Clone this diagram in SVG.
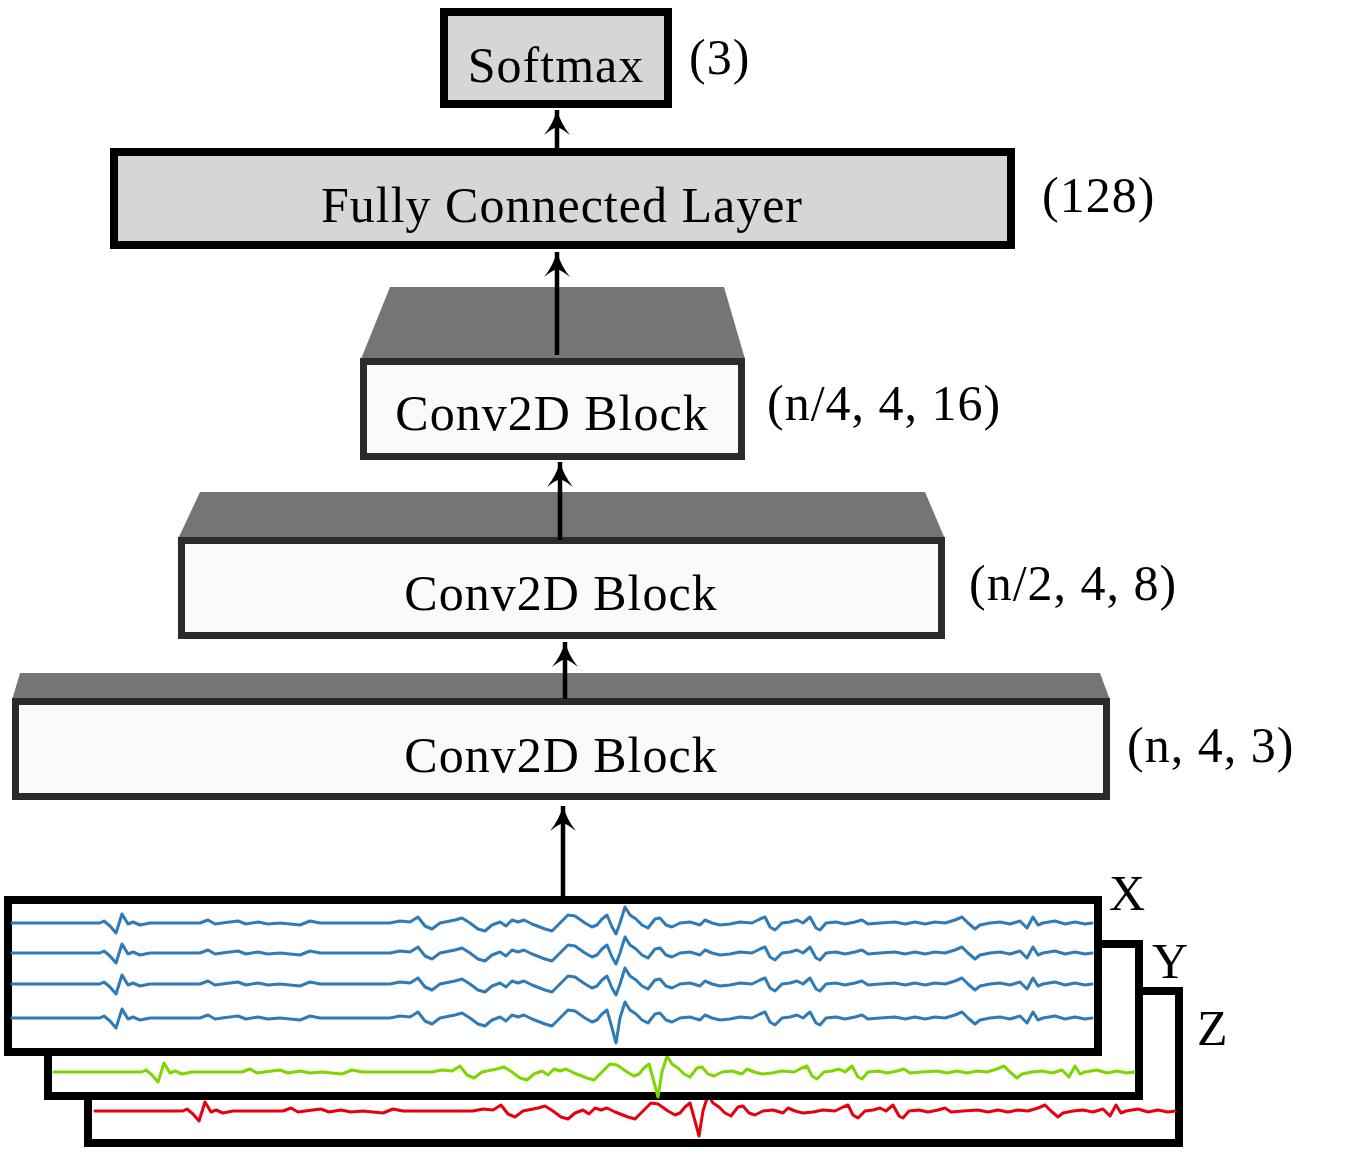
<svg xmlns="http://www.w3.org/2000/svg" xmlns:xlink="http://www.w3.org/1999/xlink" width="1348" height="1156" viewBox="0 0 1348 1156">
<style>
  text { font-family: "Liberation Serif", "Times New Roman", serif; font-size: 50px; fill: #000; letter-spacing: 1px; }
  .mid { text-anchor: middle; }
  .gbox { fill: #d6d6d6; stroke: #000; stroke-width: 8; }
  .cbox { fill: #fafafa; stroke: #2b2b2b; stroke-width: 7; }
  .trap { fill: #757575; }
  .frame { fill: #fff; stroke: #000; stroke-width: 8; }
  .conn { stroke: #000; stroke-width: 4.5; fill: none; }
  .wave { fill: none; stroke-width: 3; stroke-linejoin: round; stroke-linecap: round; }
  .blue { stroke: #2f7bb8; }
  .green { stroke: #7ed600; }
  .red { stroke: #e60010; }
</style>
<defs>
  <marker id="ah" markerUnits="userSpaceOnUse" markerWidth="32" markerHeight="32" viewBox="-16 -2 32 32" refX="0" refY="0" orient="auto-start-reverse" overflow="visible">
    <path d="M0,0 Q4,14 13,25 Q4,18 0,17 Q-4,18 -13,25 Q-4,14 0,0 Z" fill="#000" transform="rotate(90)"/>
  </marker>
  <polyline id="wa" class="wave" points="12,0 100,0 104,-2 110,3 116,10 122,-9 128,1 133,-1 140,2 150,0 200,0 208,-3 215,1 222,0 238,-2 246,1 258,-1 268,1 280,0 300,2 310,-2 320,0 390,0 400,-2 410,-1 418,-6 425,3 432,6 440,0 455,-3 462,-5 470,0 478,6 485,8 492,2 500,-1 506,3 512,-3 518,-1 524,-3 532,1 545,6 552,8 560,0 568,-8 575,-7 585,0 592,4 597,2 602,-4 607,-8 612,4 616,11 620,0 625,-16 630,-8 636,-4 642,2 648,5 655,-4 660,-5 666,2 672,4 680,0 690,-1 700,2 705,-3 712,0 720,2 730,1 740,-1 752,0 760,-4 765,-6 770,4 775,7 782,0 790,-1 797,-3 803,0 810,-6 816,5 820,7 826,0 836,-1 845,1 855,-1 862,-3 868,1 880,0 895,-1 905,1 915,-1 925,1 935,-1 945,0 955,-3 962,-6 968,0 975,6 980,2 990,0 1000,-1 1010,1 1020,-2 1027,5 1033,-6 1038,2 1043,0 1055,-2 1065,1 1075,-1 1085,1 1092,0"/>
  <polyline id="wb" class="wave" points="12,0 100,0 104,-2 110,3 116,10 122,-9 128,1 133,-1 140,2 150,0 200,0 208,-3 215,1 222,0 238,-2 246,1 258,-1 268,1 280,0 300,2 310,-2 320,0 390,0 400,-2 410,-1 418,-6 425,3 432,6 440,0 455,-3 462,-5 470,0 478,6 485,8 492,2 500,-1 506,3 512,-3 518,-1 524,-3 532,1 545,6 552,8 560,0 568,-8 575,-7 585,0 592,4 597,2 602,-4 607,-8 612,10 616,25 620,0 625,-16 630,-8 636,-4 642,2 648,5 655,-4 660,-5 666,2 672,4 680,0 690,-1 700,2 705,-3 712,0 720,2 730,1 740,-1 752,0 760,-4 765,-6 770,4 775,7 782,0 790,-1 797,-3 803,0 810,-6 816,5 820,7 826,0 836,-1 845,1 855,-1 862,-3 868,1 880,0 895,-1 905,1 915,-1 925,1 935,-1 945,0 955,-3 962,-6 968,0 975,6 980,2 990,0 1000,-1 1010,1 1020,-2 1027,5 1033,-6 1038,2 1043,0 1055,-2 1065,1 1075,-1 1085,1 1092,0"/>
</defs>
<rect width="1348" height="1156" fill="#fff"/>

<g id="input">
  <g id="input-z">
    <rect class="frame" x="88" y="991" width="1091" height="152"/>
    <use xlink:href="#wb" href="#wb" class="red" transform="translate(83,1111)"/>
    <text x="1197" y="1045">Z</text>
  </g>
  <g id="input-y">
    <rect class="frame" x="48" y="944" width="1091" height="152"/>
    <use xlink:href="#wb" href="#wb" class="green" transform="translate(42,1072)"/>
    <text x="1152" y="978">Y</text>
  </g>
  <g id="input-x">
    <rect class="frame" x="8" y="900" width="1090" height="152"/>
    <use xlink:href="#wa" href="#wa" class="blue" transform="translate(0,923)"/>
    <use xlink:href="#wa" href="#wa" class="blue" transform="translate(0,953)"/>
    <use xlink:href="#wa" href="#wa" class="blue" transform="translate(0,984)"/>
    <use xlink:href="#wb" href="#wb" class="blue" transform="translate(0,1018)"/>
    <text x="1109" y="910">X</text>
  </g>
</g>

<g id="conv1">
  <polygon class="trap" points="20,673 1100,673 1110,700 12,700"/>
  <rect class="cbox" x="15.5" y="701.5" width="1091" height="95"/>
  <text class="mid" x="561" y="772">Conv2D Block</text>
  <text x="1127" y="762">(n, 4, 3)</text>
</g>

<g id="conv2">
  <polygon class="trap" points="200,492 925,492 945,539 178,539"/>
  <rect class="cbox" x="181.5" y="540.5" width="760" height="95"/>
  <text class="mid" x="561" y="610">Conv2D Block</text>
  <text x="969" y="600">(n/2, 4, 8)</text>
</g>

<g id="conv3">
  <polygon class="trap" points="390,287 724,287 745,359 361,359"/>
  <rect class="cbox" x="363.5" y="361.5" width="378" height="95"/>
  <text class="mid" x="552" y="430">Conv2D Block</text>
  <text x="767" y="420">(n/4, 4, 16)</text>
</g>

<g id="fc">
  <rect class="gbox" x="114" y="152" width="897" height="93"/>
  <text class="mid" x="562" y="222">Fully Connected Layer</text>
  <text x="1042" y="212">(128)</text>
</g>

<g id="softmax">
  <rect class="gbox" x="444" y="12" width="224" height="92"/>
  <text class="mid" x="556" y="82">Softmax</text>
  <text x="689" y="74">(3)</text>
</g>

<g id="connectors">
  <line class="conn" x1="563" y1="897" x2="563" y2="806" marker-end="url(#ah)"/>
  <line class="conn" x1="565" y1="699" x2="565" y2="642" marker-end="url(#ah)"/>
  <line class="conn" x1="560" y1="540" x2="560" y2="462" marker-end="url(#ah)"/>
  <line class="conn" x1="557" y1="355" x2="557" y2="252" marker-end="url(#ah)"/>
  <line class="conn" x1="557" y1="148" x2="557" y2="110" marker-end="url(#ah)"/>
</g>
</svg>
